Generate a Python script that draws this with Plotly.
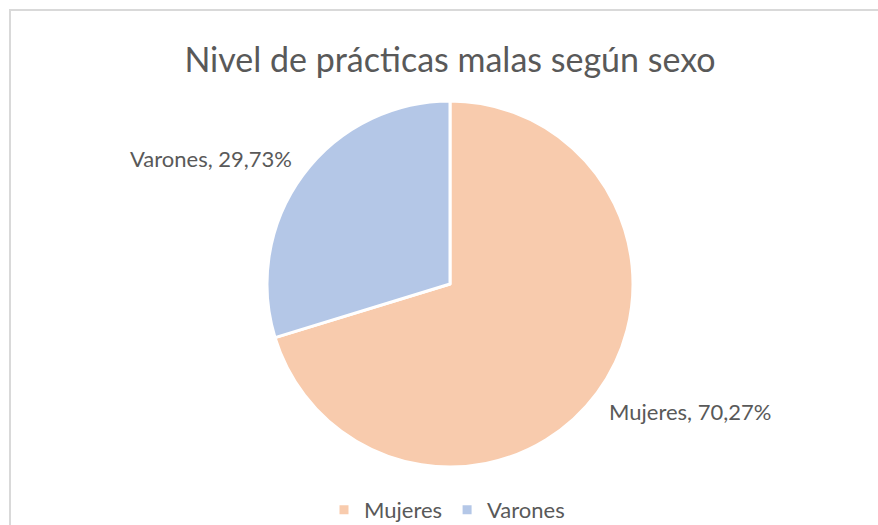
import plotly.graph_objects as go

# data
sexo = ["Mujeres", "Varones"]
porcentaje = [70.27, 29.73]
colores = ["#F8CBAD", "#B4C7E7"]

W, H = 878, 525
gris = "#595959"
fuente = "Lato, Open Sans, sans-serif"

fig = go.Figure(
    data=[go.Pie(
        labels=sexo,
        values=porcentaje,
        sort=False,
        direction="clockwise",
        rotation=0,
        textinfo="none",
        hoverinfo="label+percent",
        marker=dict(colors=colores, line=dict(color="white", width=3)),
        domain=dict(x=[(450 - 183) / W, (450 + 183) / W],
                    y=[1 - 467 / H, 1 - 101 / H]),
    )]
)

# data labels, Excel style: "categoria, xx,xx%"
lbl_pos = [(690, 411), (211, 158)]
for nombre, val, (px, py) in zip(sexo, porcentaje, lbl_pos):
    fig.add_annotation(
        x=px / W, y=1 - py / H, xref="paper", yref="paper",
        xanchor="center", yanchor="middle",
        text=f"{nombre}, {val:.2f}%".replace(".", ","),
        showarrow=False,
        font=dict(family=fuente, size=22, color=gris),
    )

# chart frame
fig.add_shape(type="rect", xref="paper", yref="paper",
              x0=10 / W, x1=1.02, y0=-0.02, y1=1 - 10 / H,
              line=dict(color="#D9D9D9", width=2), fillcolor="rgba(0,0,0,0)")

fig.update_layout(
    width=W, height=H,
    margin=dict(l=0, r=0, t=0, b=0, autoexpand=False),
    paper_bgcolor="white",
    title=dict(text="Nivel de prácticas malas según sexo",
               x=450 / W, xanchor="center", y=1 - 60 / H, yanchor="middle",
               font=dict(family=fuente, size=34, color=gris)),
    showlegend=True,
    legend=dict(orientation="h", x=447 / W, xanchor="center",
                y=1 - 510 / H, yanchor="middle",
                font=dict(family=fuente, size=22, color=gris),
                itemwidth=30),
)

# browser default body margin would shift the figure by 8px
fig.write_html("out.html", config={"displayModeBar": False},
               post_script="document.body.style.margin='0px';")
